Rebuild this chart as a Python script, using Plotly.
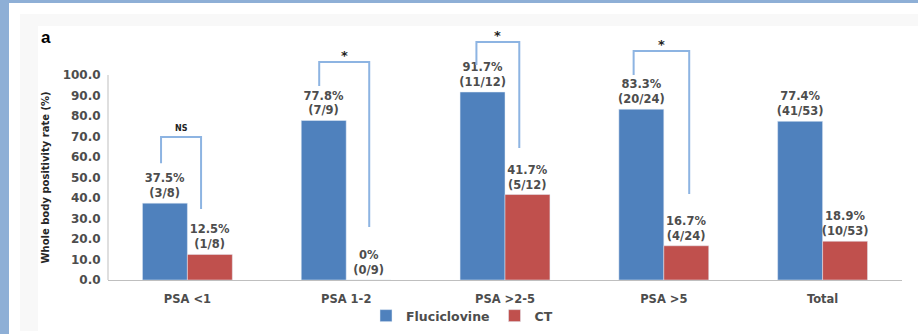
import plotly.graph_objects as go

# ---- data ----
categories = ["PSA <1", "PSA 1-2", "PSA >2-5", "PSA >5", "Total"]
flu_pct = [37.5, 77.8, 91.7, 83.3, 77.4]
ct_pct = [12.5, 0, 41.7, 16.7, 18.9]
flu_pos = [3, 7, 11, 20, 41]
ct_pos = [1, 0, 5, 4, 10]
n_total = [8, 9, 12, 24, 53]
y_ticks = [0, 10, 20, 30, 40, 50, 60, 70, 80, 90, 100]
sig_labels = ["NS", "*", "*", "*"]

# bracket geometry (category offsets / y values)
br_left = [-0.166, -0.17, -0.18, -0.19]
br_right = [0.086, 0.145, 0.09, 0.16]
br_top = [69.8, 106.3, 116.1, 111.7]
br_lbot = [57.0, 94.6, 104.9, 100.0]
br_rbot = [34.6, 25.9, 64.4, 42.0]

BLUE = "#4f81bd"
RED = "#c0504d"
TXT = "#4d4d4d"
BRK = "#8db4e2"
FONT = "DejaVu Sans"

W, H = 918, 334
ML, MR, MT, MB = 108, 16, 24, 54
PW, PH = W - ML - MR, H - MT - MB


def px_x(px):
    return (px - ML) / PW


def px_y(py):
    return (H - MB - py) / PH


xs = list(range(len(categories)))


def lab(v, p, n):
    return f"<b>{v:g}%<br>({p}/{n})</b>"


fig = go.Figure()
fig.add_trace(go.Bar(
    x=xs, y=flu_pct, name="<b>Fluciclovine</b>", marker_color=BLUE,
    text=[lab(v, p, n) for v, p, n in zip(flu_pct, flu_pos, n_total)],
    textposition="outside", cliponaxis=False, constraintext="none",
    textfont=dict(size=11.5, color=TXT, family=FONT),
))
fig.add_trace(go.Bar(
    x=xs, y=ct_pct, name="<b>CT</b>", marker_color=RED,
    text=[lab(v, p, n) for v, p, n in zip(ct_pct, ct_pos, n_total)],
    textposition="outside", cliponaxis=False, constraintext="none",
    textfont=dict(size=11.5, color=TXT, family=FONT),
))

shapes = []
annotations = []

# background frame
shapes.append(dict(type="rect", xref="paper", yref="paper", layer="below",
                   x0=px_x(0), x1=px_x(9), y0=px_y(H), y1=px_y(0),
                   fillcolor="#8eafd6", line_width=0))
shapes.append(dict(type="rect", xref="paper", yref="paper", layer="below",
                   x0=px_x(0), x1=px_x(W), y0=px_y(3), y1=px_y(0),
                   fillcolor="#8eafd6", line_width=0))
shapes.append(dict(type="rect", xref="paper", yref="paper", layer="below",
                   x0=px_x(20), x1=px_x(W), y0=px_y(331), y1=px_y(14),
                   fillcolor="#f8f8f8", line_width=0))
shapes.append(dict(type="rect", xref="paper", yref="paper", layer="below",
                   x0=px_x(38), x1=px_x(W), y0=px_y(331), y1=px_y(26),
                   fillcolor="white", line_width=0))
# y axis line (0..100)
shapes.append(dict(type="line", xref="paper", yref="y", x0=0, x1=0, y0=0, y1=100,
                   line=dict(color="#bfbfbf", width=1)))

for i, lbl in enumerate(sig_labels):
    xl = xs[i] + br_left[i]
    xr = xs[i] + br_right[i]
    shapes.append(dict(
        type="path", xref="x", yref="y",
        path=f"M {xl} {br_lbot[i]} L {xl} {br_top[i]} L {xr} {br_top[i]} L {xr} {br_rbot[i]}",
        line=dict(color=BRK, width=2),
    ))
    annotations.append(dict(
        x=(xl + xr) / 2, y=br_top[i], xref="x", yref="y", text=f"<b>{lbl}</b>",
        showarrow=False, xanchor="center", yanchor="bottom",
        yshift=2 if lbl == "NS" else -3,
        font=dict(size=8 if lbl == "NS" else 13, color="#222222", family=FONT),
    ))

annotations.append(dict(x=px_x(46), y=px_y(37), xref="paper", yref="paper",
                        xanchor="center", yanchor="middle",
                        text="<b>a</b>", showarrow=False,
                        font=dict(size=17, color="black", family="Liberation Sans")))
annotations.append(dict(x=px_x(45), y=50, xref="paper", yref="y",
                        xanchor="center", yanchor="middle",
                        text="<b>Whole body positivity rate (%)</b>", textangle=-90,
                        showarrow=False, font=dict(size=10, color="#262626", family=FONT)))

fig.update_layout(
    width=W, height=H,
    margin=dict(l=ML, r=MR, t=MT, b=MB, autoexpand=False),
    paper_bgcolor="white", plot_bgcolor="rgba(0,0,0,0)",
    barmode="group", bargap=0.434, bargroupgap=0,
    font=dict(family=FONT, color=TXT),
    shapes=shapes, annotations=annotations,
    showlegend=True,
    legend=dict(orientation="h", x=px_x(462), y=px_y(316), xanchor="center",
                yanchor="middle", font=dict(size=12.5, color=TXT, family=FONT),
                bgcolor="rgba(0,0,0,0)", itemwidth=30),
)
fig.update_xaxes(range=[-0.5, len(categories) - 0.5], tickvals=xs,
                 ticktext=[f"<b>{c}</b>" for c in categories],
                 showline=True, linecolor="#bfbfbf", showgrid=False, zeroline=False,
                 ticks="outside", ticklen=8, tickcolor="rgba(0,0,0,0)",
                 tickfont=dict(size=11.5, color=TXT, family=FONT), fixedrange=True)
fig.update_yaxes(range=[0, PH / 2.05], tickvals=y_ticks,
                 ticktext=[f"<b>{v:.1f}</b>" for v in y_ticks], showgrid=False, zeroline=False,
                 showline=False, ticks="outside", ticklen=4, tickcolor="rgba(0,0,0,0)",
                 tickfont=dict(size=12, color=TXT, family=FONT), fixedrange=True)

fig.write_html("out.html")
